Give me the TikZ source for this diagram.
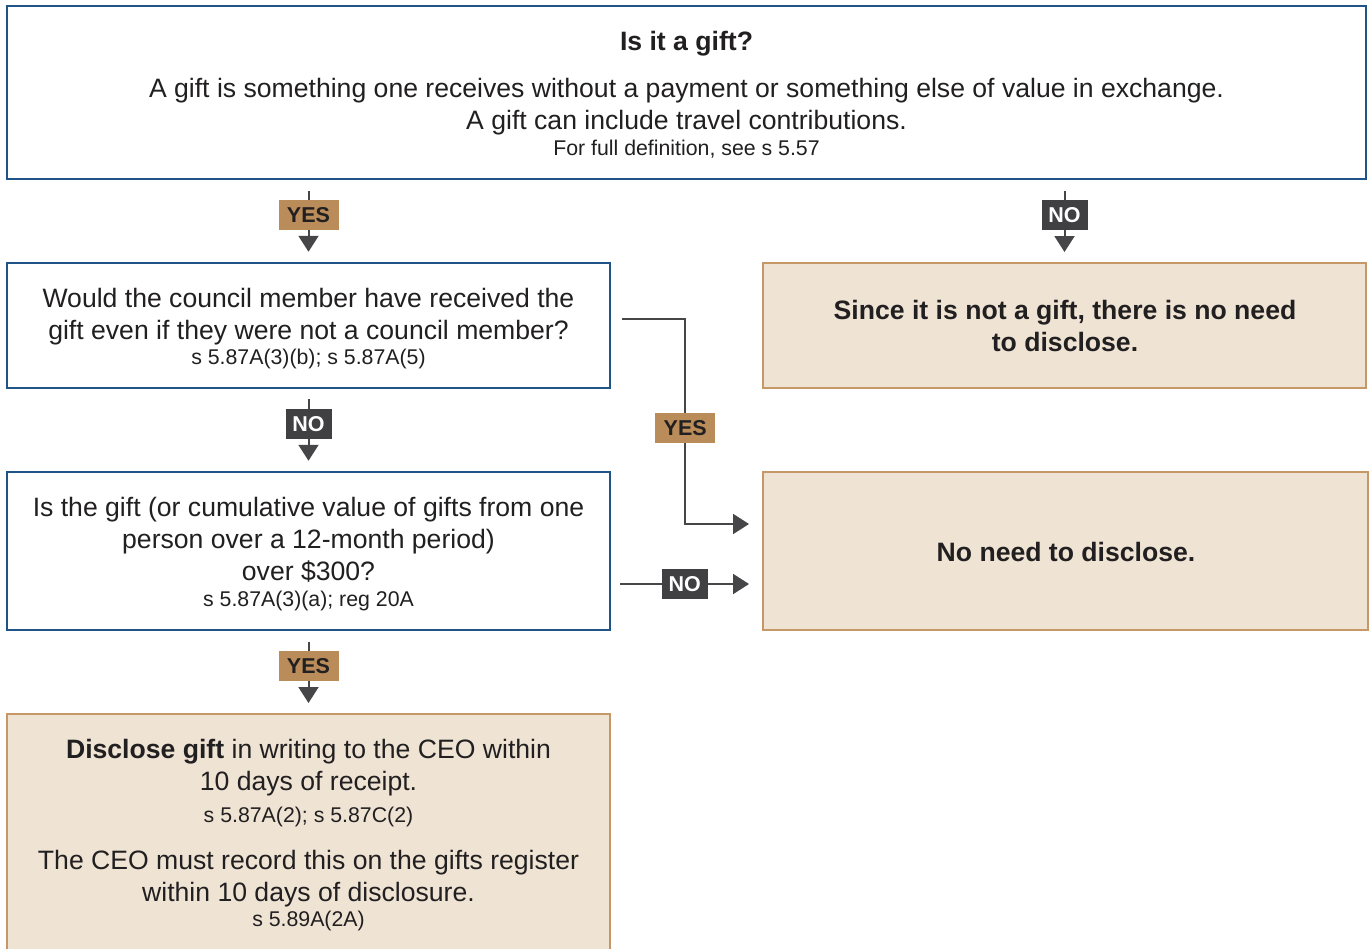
\documentclass[tikz,border=0pt]{standalone}
\usepackage{fontspec}
\setmainfont{Liberation Sans}
\usetikzlibrary{arrows.meta,calc}
\definecolor{bbord}{RGB}{31,84,135}
\definecolor{tbord}{RGB}{198,152,104}
\definecolor{tfill}{RGB}{239,227,212}
\definecolor{yesfill}{RGB}{185,140,90}
\definecolor{nofill}{RGB}{64,64,66}
\definecolor{linec}{RGB}{70,70,72}
\definecolor{txtc}{RGB}{33,31,32}
\tikzset{
  bluebox/.style={draw=bbord, line width=2.5pt, fill=white, inner sep=0pt, rectangle},
  tanbox/.style={draw=tbord, line width=2pt, fill=tfill, inner sep=0pt, rectangle},
  big/.style={anchor=base, inner sep=0pt, text=txtc, font=\fontsize{26.6}{30}\selectfont},
  bigb/.style={anchor=base, inner sep=0pt, text=txtc, font=\fontsize{26.6}{30}\selectfont\bfseries},
  sml/.style={anchor=base, inner sep=0pt, text=txtc, font=\fontsize{21.3}{25}\selectfont},
  arr/.style={draw=linec, line width=2pt, -{Triangle[length=16pt,width=20pt]}},
  yeslab/.style={fill=yesfill, text=txtc, font=\fontsize{21.5}{25}\selectfont\bfseries, minimum width=60pt, minimum height=30pt, inner sep=0pt},
  nolab/.style={fill=nofill, text=white, font=\fontsize{21.5}{25}\selectfont\bfseries, minimum width=46pt, minimum height=30pt, inner sep=0pt},
}
\begin{document}
\begin{tikzpicture}[x=1pt,y=-1pt]
\useasboundingbox[fill=white] (0,0) rectangle (1371,948);
% boxes
\node[bluebox, minimum width=1359pt, minimum height=173pt] (top) at (686.5,92.5) {};
\node[bluebox, minimum width=603pt, minimum height=125pt] (q1) at (308.5,325.5) {};
\node[tanbox, minimum width=603pt, minimum height=125pt] (r1) at (1064.5,325.5) {};
\node[bluebox, minimum width=603pt, minimum height=158pt] (q2) at (308.5,551) {};
\node[tanbox, minimum width=605pt, minimum height=158pt] (r2) at (1065.5,551) {};
\node[tanbox, minimum width=603pt, minimum height=246pt] (d) at (308.5,837) {};
% texts
\node[bigb] (t1) at (686.5,50) {Is it a gift?};
\node[big] (t2) at (686.5,97) {A gift is something one receives without a payment or something else of value in exchange.};
\node[big] (t3) at (686.5,129) {A gift can include travel contributions.};
\node[sml] (t4) at (686.5,155) {For full definition, see s 5.57};
\node[big] (q1a) at (308.5,307) {Would the council member have received the};
\node[big] (q1b) at (308.5,339) {gift even if they were not a council member?};
\node[sml] (q1c) at (308.5,364) {s 5.87A(3)(b); s 5.87A(5)};
\node[bigb] (r1a) at (1065,319) {Since it is not a gift, there is no need};
\node[bigb] (r1b) at (1065,351) {to disclose.};
\node[big] (q2a) at (308.5,516) {Is the gift (or cumulative value of gifts from one};
\node[big] (q2b) at (308.5,548) {person over a 12-month period)};
\node[big] (q2c) at (308.5,580) {over \$300?};
\node[sml] (q2d) at (308.5,606) {s 5.87A(3)(a); reg 20A};
\node[bigb] (r2a) at (1066,561) {No need to disclose.};
\node[big] (da) at (308.5,758) {\textbf{Disclose gift} in writing to the CEO within};
\node[big] (db) at (308.5,790) {10 days of receipt.};
\node[sml] (dc) at (308.5,822) {s 5.87A(2); s 5.87C(2)};
\node[big] (dd) at (308.5,869) {The CEO must record this on the gifts register};
\node[big] (de) at (308.5,901) {within 10 days of disclosure.};
\node[sml] (df) at (308.5,926) {s 5.89A(2A)};
% connectors
\draw[arr, shorten <=11pt, shorten >=10pt] (top.south -| q1.north) -- node[yeslab, pos=0.43] {YES} (q1.north);
\draw[arr, shorten <=11pt, shorten >=10pt] (top.south -| r1.north) -- node[nolab, pos=0.43] {NO} (r1.north);
\draw[arr, shorten <=10pt, shorten >=10pt] (q1.south) -- node[nolab, pos=0.43] {NO} (q2.north);
\draw[arr, shorten <=11pt, shorten >=10pt] (q2.south) -- node[yeslab, pos=0.43] {YES} (d.north);
\coordinate (e1) at ($(q1.east)+(11,-6.5)$);
\coordinate (e2) at ($(r2.west)+(-13,-27)$);
\draw[arr] (e1) -- ++(63,0) |- node[yeslab, pos=0.266] {YES} (e2);
\coordinate (n1) at ($(q2.east)+(9,33)$);
\coordinate (n2) at ($(r2.west)+(-13,33)$);
\draw[arr] (n1) -- node[nolab] {NO} (n2);
\end{tikzpicture}
\end{document}
